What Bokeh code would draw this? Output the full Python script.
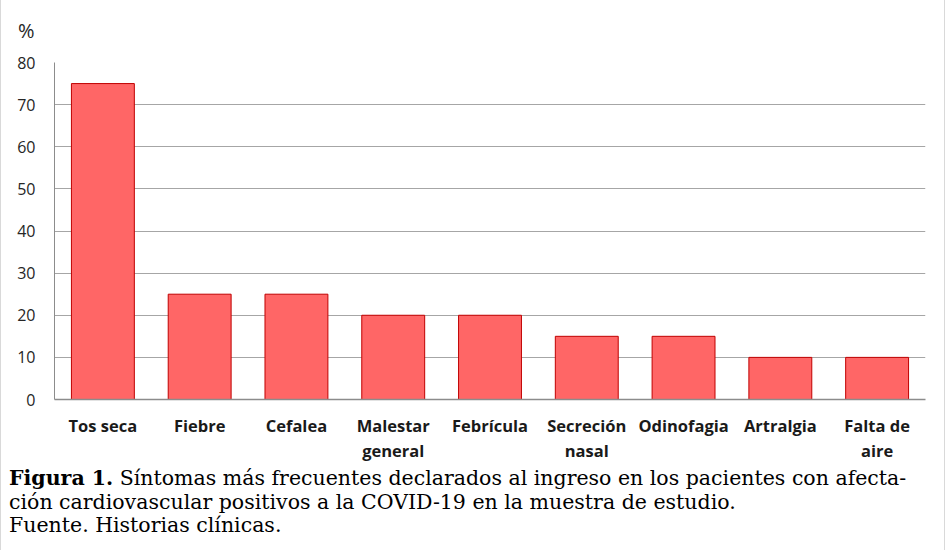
from bokeh.plotting import figure
from bokeh.models import FactorRange, Range1d, FixedTicker, ColumnDataSource, Div
from bokeh.layouts import column
from bokeh.embed import file_html
from bokeh.resources import INLINE

categories = ["Tos seca", "Fiebre", "Cefalea", "Malestar\ngeneral", "Febrícula",
              "Secreción\nnasal", "Odinofagia", "Artralgia", "Falta de\naire"]
values = [75, 25, 25, 20, 20, 15, 15, 10, 10]
y_ticks = [0, 10, 20, 30, 40, 50, 60, 70, 80]
y_unit = "%"
caption_bold = "Figura 1."
caption_rest = "Síntomas más frecuentes declarados al ingreso en los pacientes con afecta-"
caption_line2 = "ción cardiovascular positivos a la COVID-19 en la muestra de estudio."
caption_line3 = "Fuente. Historias clínicas."

W = 933
TOP_H = 30
FH = 426
TOTAL_H = 541

unit_html = (
    '<div style="font-family:\'Open Sans\';font-size:20px;line-height:20px;'
    f'color:#262626;padding-left:12px;position:relative;top:18px;">{y_unit}</div>'
)
unit_div = Div(text=unit_html, width=W, height=TOP_H)

p = figure(width=W, height=FH,
           x_range=FactorRange(*categories, range_padding=0),
           y_range=Range1d(0, 80),
           output_backend="svg", toolbar_location=None,
           min_border_left=53, min_border_right=9,
           min_border_top=54 - TOP_H, min_border_bottom=FH - (391 - TOP_H))
p.outline_line_color = None
p.background_fill_color = "white"
p.border_fill_color = "white"

src = ColumnDataSource(dict(cat=categories, val=values))
p.vbar(x="cat", top="val", width=0.65, source=src,
       fill_color="#FF6666", line_color="#C00000", line_width=1)

p.yaxis.ticker = FixedTicker(ticks=y_ticks)
p.yaxis.major_tick_line_color = None
p.yaxis.minor_tick_line_color = None
p.yaxis.axis_line_color = "#8c8c8c"
p.yaxis.major_label_text_font = "Open Sans"
p.yaxis.major_label_text_font_size = "16px"
p.yaxis.major_label_text_color = "#262626"
p.yaxis.major_label_standoff = 13

p.xaxis.major_tick_line_color = None
p.xaxis.axis_line_color = "#8c8c8c"
p.xaxis.axis_line_width = 1.5
p.xaxis.major_label_text_font = "Open Sans"
p.xaxis.major_label_text_font_style = "bold"
p.xaxis.major_label_text_font_size = "16.5px"
p.xaxis.major_label_text_line_height = 1.1
p.xaxis.major_label_text_color = "#1a1a1a"
p.xaxis.major_label_standoff = 8
p.xaxis.major_label_orientation = "horizontal"

p.xgrid.grid_line_color = None
p.ygrid.grid_line_color = "#a6a6a6"
p.ygrid.ticker = FixedTicker(ticks=y_ticks)

cap_html = (
    '<div style="font-family:\'DejaVu Serif\';font-size:20.5px;line-height:23.5px;'
    'white-space:nowrap;color:#000;padding-left:3px;margin-top:-2px;">'
    f'<b>{caption_bold}</b> {caption_rest}<br>{caption_line2}<br>{caption_line3}</div>'
)
cap = Div(text=cap_html, width=W, height=TOTAL_H - TOP_H - FH)

layout = column(unit_div, p, cap, spacing=0)
layout.styles = {"border": "1px solid #d9d9d9", "background-color": "white",
                 "margin-top": "-3px"}

open("out.html", "w").write(file_html(layout, INLINE))
